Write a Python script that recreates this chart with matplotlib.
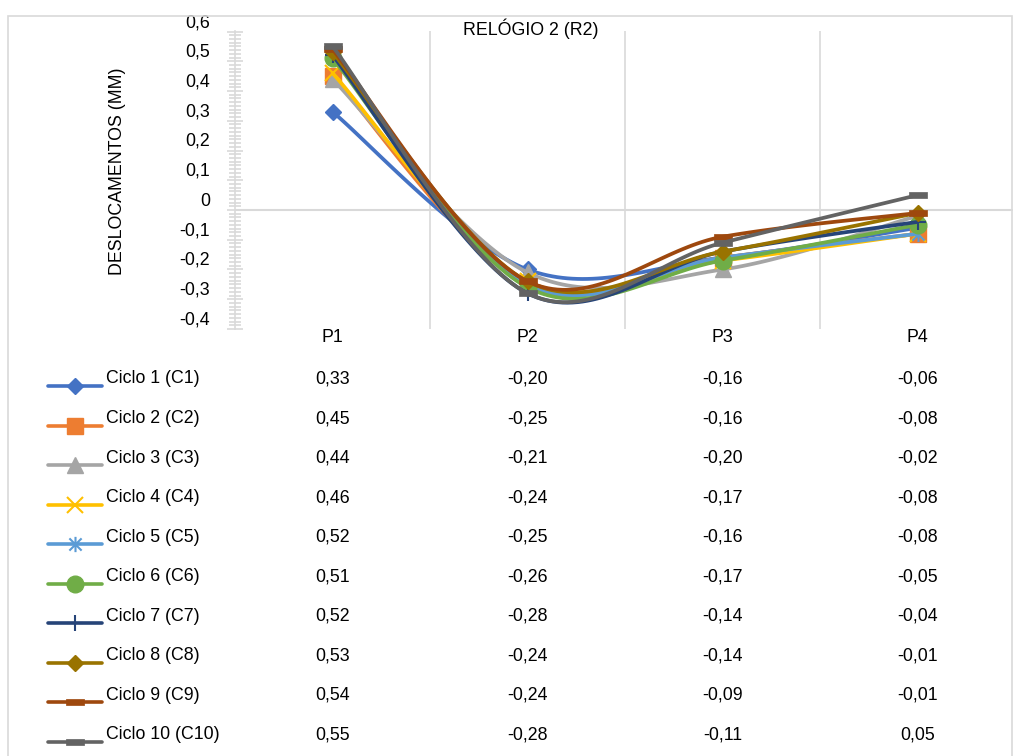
import numpy as np
import matplotlib
matplotlib.use('Agg')
import matplotlib.pyplot as plt
from matplotlib.lines import Line2D
from matplotlib.patches import Rectangle
from matplotlib.path import Path
from matplotlib.transforms import blended_transform_factory, offset_copy

plt.rcParams['font.family'] = ['Liberation Sans', 'DejaVu Sans']

# ---------------- data ----------------
categories = ['P1', 'P2', 'P3', 'P4']
series_names = ['Ciclo 1 (C1)', 'Ciclo 2 (C2)', 'Ciclo 3 (C3)', 'Ciclo 4 (C4)',
                'Ciclo 5 (C5)', 'Ciclo 6 (C6)', 'Ciclo 7 (C7)', 'Ciclo 8 (C8)',
                'Ciclo 9 (C9)', 'Ciclo 10 (C10)']
c1 = [0.33, -0.20, -0.16, -0.06]
c2 = [0.45, -0.25, -0.16, -0.08]
c3 = [0.44, -0.21, -0.20, -0.02]
c4 = [0.46, -0.24, -0.17, -0.08]
c5 = [0.52, -0.25, -0.16, -0.08]
c6 = [0.51, -0.26, -0.17, -0.05]
c7 = [0.52, -0.28, -0.14, -0.04]
c8 = [0.53, -0.24, -0.14, -0.01]
c9 = [0.54, -0.24, -0.09, -0.01]
c10 = [0.55, -0.28, -0.11, 0.05]
series_values = [c1, c2, c3, c4, c5, c6, c7, c8, c9, c10]
title = 'RELÓGIO 2 (R2)'
ylabel = 'DESLOCAMENTOS (MM)'

# ---------------- styles ----------------
asterisk = Path([(-1, -1), (1, 1), (-1, 1), (1, -1), (0, -1.25), (0, 1.25)],
                [Path.MOVETO, Path.LINETO, Path.MOVETO, Path.LINETO, Path.MOVETO, Path.LINETO])
dash = Path([(-1, -0.3), (1, -0.3), (1, 0.3), (-1, 0.3), (-1, -0.3)],
            [Path.MOVETO, Path.LINETO, Path.LINETO, Path.LINETO, Path.CLOSEPOLY])
styles = [
    dict(color='#4472C4', marker='D', ms=8.5, mew=1),
    dict(color='#ED7D31', marker='s', ms=11, mew=1),
    dict(color='#A5A5A5', marker='^', ms=11, mew=1),
    dict(color='#FFC000', marker='x', ms=11, mew=1.5),
    dict(color='#5B9BD5', marker=asterisk, ms=11, mew=1.5),
    dict(color='#70AD47', marker='o', ms=12, mew=1),
    dict(color='#264478', marker='+', ms=12, mew=1.5),
    dict(color='#997300', marker='D', ms=8.5, mew=1),
    dict(color='#9E480E', marker=dash, ms=13, mew=0.5),
    dict(color='#636363', marker=dash, ms=13, mew=0.5),
]
grid_c = '#D9D9D9'
FS = 12.8
W, H = 1013, 756


def smooth(xs, ys, n=40):
    pts = np.column_stack([xs, ys]).astype(float)
    ext = np.vstack([pts[0], pts, pts[-1]])
    out = []
    t = np.linspace(0, 1, n)[:, None]
    for i in range(len(pts) - 1):
        p0, p1, p2, p3 = ext[i], ext[i + 1], ext[i + 2], ext[i + 3]
        k1 = p1 + (p2 - p0) / 6
        k2 = p2 - (p3 - p1) / 6
        seg = (1 - t) ** 3 * p1 + 3 * (1 - t) ** 2 * t * k1 + 3 * (1 - t) * t ** 2 * k2 + t ** 3 * p2
        out.append(seg if i == 0 else seg[1:])
    return np.vstack(out)


fig = plt.figure(figsize=(W / 100, H / 100), dpi=100)
fig.patch.set_facecolor('white')

# outer border
fig.add_artist(Rectangle((8 / W, -0.1), (1012 - 8) / W, 1.1 - 16 / H, transform=fig.transFigure,
                         fill=False, edgecolor=grid_c, lw=1.2))

ax_left, ax_right = 235, 1015
ax_top, ax_bot = 31.5, 329
ax = fig.add_axes([ax_left / W, 1 - ax_bot / H, (ax_right - ax_left) / W, (ax_bot - ax_top) / H])
ax.set_facecolor('none')

x = np.arange(len(categories))
ax.set_xlim(-0.5, len(categories) - 0.5)
ax.set_ylim(-0.4, 0.6)

for s in ['top', 'right', 'bottom']:
    ax.spines[s].set_visible(False)
ax.spines['left'].set_color(grid_c)
ax.spines['left'].set_linewidth(1.2)

ax.set_xticks([])
ax.set_xticks(np.arange(len(categories) - 1) + 0.5, minor=True)
ax.grid(True, which='minor', axis='x', color=grid_c, lw=1.2)
ax.tick_params(axis='x', which='both', length=0, labelbottom=False)
ax.axhline(0, color=grid_c, lw=1.5, zorder=1)

yt = np.round(np.arange(-0.4, 0.61, 0.1), 2)
ax.set_yticks(yt)
ax.set_yticks(np.arange(-0.4, 0.6001, 0.0125), minor=True)
ax.tick_params(axis='y', which='major', direction='inout', length=11.5, width=1.2, color=grid_c, labelleft=False)
ax.tick_params(axis='y', which='minor', direction='inout', length=8, width=1.2, color=grid_c)

ytrans = offset_copy(blended_transform_factory(ax.transAxes, ax.transData), fig=fig, x=-25, y=9, units='dots')
for v in yt:
    lab = '0' if abs(v) < 1e-9 else f'{v:.1f}'.replace('.', ',')
    ax.text(0, v, lab, transform=ytrans, ha='right', va='center', fontsize=FS, color='#000000', clip_on=False)

for i, (vals, st) in enumerate(zip(series_values, styles)):
    sm = smooth(x, vals)
    ax.plot(sm[:, 0], sm[:, 1], color=st['color'], lw=2.7, solid_capstyle='round', zorder=3 + i, clip_on=False)
    ax.plot(x, vals, ls='none', marker=st['marker'], ms=st['ms'], mew=st['mew'],
            color=st['color'], mfc=st['color'], mec=st['color'], zorder=3 + i, clip_on=False)

fig.text(531 / W, 1 - 29 / H, title, ha='center', va='center', fontsize=FS)
fig.text(118 / W, 1 - 171 / H, ylabel, ha='center', va='center', rotation=90, fontsize=FS)

# data table
tx = blended_transform_factory(ax.transData, fig.transFigure)
for j, cat in enumerate(categories):
    fig.text(x[j], 1 - 338 / H, cat, transform=tx, ha='center', va='center', fontsize=FS)

row0, dy = 379, 39.55
for i, (name, vals, st) in enumerate(zip(series_names, series_values, styles)):
    yr = row0 + i * dy
    ly = 1 - (yr + 7) / H
    fig.add_artist(Line2D([48 / W, 75 / W, 102 / W], [ly, ly, ly], transform=fig.transFigure,
                          color=st['color'], lw=2.6, solid_capstyle='round', marker=st['marker'],
                          markevery=[1], ms=st['ms'], mew=st['mew'], mfc=st['color'], mec=st['color']))
    fig.text(106 / W, 1 - yr / H, name, ha='left', va='center', fontsize=FS)
    for j, v in enumerate(vals):
        fig.text(x[j], 1 - yr / H, f'{v:.2f}'.replace('.', ','), transform=tx,
                 ha='center', va='center', fontsize=FS)

fig.savefig('out.png', dpi=100, facecolor='white')
